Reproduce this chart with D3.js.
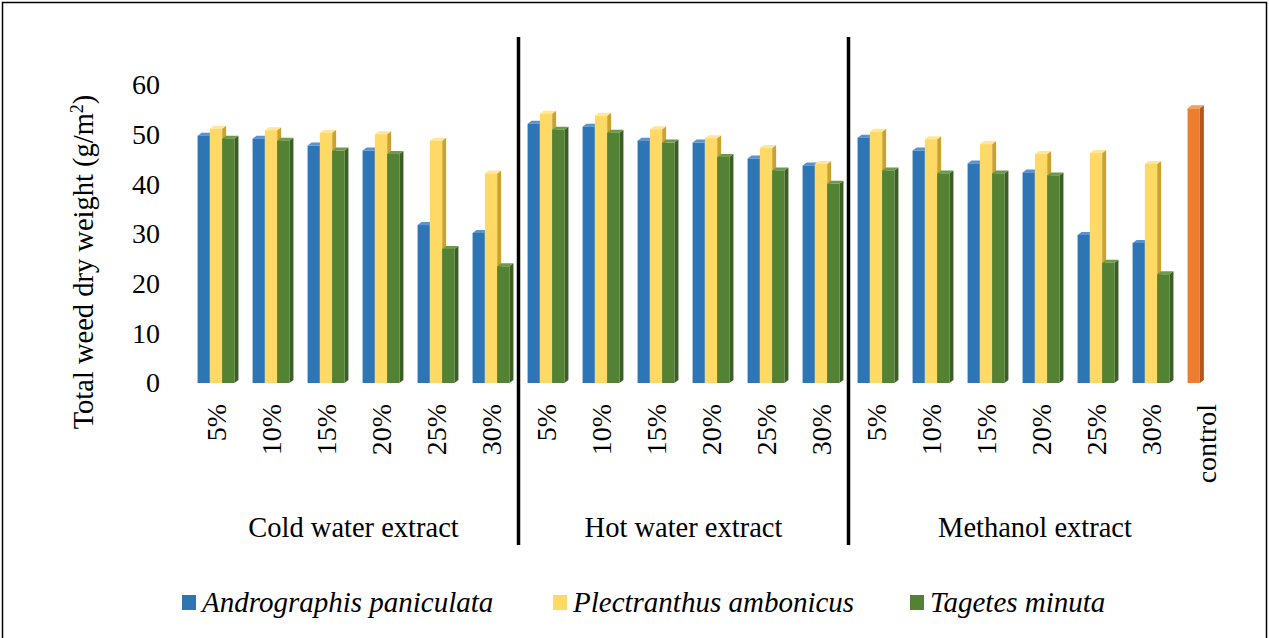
<!DOCTYPE html>
<html>
<head>
<meta charset="utf-8">
<script src="https://cdn.jsdelivr.net/npm/d3@7"></script>
<style>
body { margin: 0; background: #fff; }
</style>
</head>
<body>
<div id="chart"></div>
<script>
var svgWidth = 1269;
var svgHeight = 638;
var serif = 'Liberation Serif';

// data
var categories = ['5%', '10%', '15%', '20%', '25%', '30%',
	'5% ', '10% ', '15% ', '20% ', '25% ', '30% ',
	'5%  ', '10%  ', '15%  ', '20%  ', '25%  ', '30%  ', 'control'];
var groups = ['Cold water extract', 'Hot water extract', 'Methanol extract'];
var seriesNames = ['Andrographis paniculata', 'Plectranthus ambonicus', 'Tagetes minuta'];
var andrographis = [49.8, 49.2, 47.8, 46.8, 31.8, 30.2, 52.2, 51.6, 48.8, 48.4, 45.2, 43.8, 49.4, 46.8, 44.2, 42.4, 29.8, 28.2, 55.3];
var plectranthus = [51.2, 50.9, 50.4, 50.1, 48.8, 42.2, 54.2, 53.8, 51.1, 49.3, 47.3, 44.1, 50.6, 49.1, 48.1, 46.1, 46.3, 44.1, null];
var tagetes = [49.2, 48.8, 46.8, 46.1, 27.0, 23.5, 51.0, 50.4, 48.4, 45.5, 42.8, 40.1, 42.8, 42.2, 42.2, 41.8, 24.2, 21.9, null];
var yTicks = [0, 10, 20, 30, 40, 50, 60];

var colors = ['#2E75B6', '#FFD966', '#548235'];
var sideColors = ['#1F5288', '#C9A230', '#3A5E24'];
var topColors = ['#5B93CC', '#FFE699', '#6E9A4C'];
var controlColor = '#ED7D31', controlSide = '#B3581A', controlTop = '#F49C5E';

var svg = d3.select('#chart').append('svg')
	.attr('width', svgWidth)
	.attr('height', svgHeight);

// outer frame
svg.append('rect')
	.attr('x', 2.5).attr('y', 2.5)
	.attr('width', svgWidth - 5).attr('height', svgHeight)
	.attr('fill', 'none').attr('stroke', '#000').attr('stroke-width', 1.5);

var xScale = d3.scaleBand()
	.domain(categories)
	.range([188.5, 1233.5])
	.paddingInner(0.33)
	.paddingOuter(0.165);

var x1 = d3.scaleBand()
	.domain(d3.range(3))
	.range([0, xScale.bandwidth()]);

var yScale = d3.scaleLinear()
	.domain([0, 60])
	.range([383, 85]);

// y tick labels, no axis line
var yAxis = d3.axisLeft(yScale).tickValues(yTicks).tickSize(0).tickPadding(0);
var yG = svg.append('g')
	.attr('transform', 'translate(160,0)')
	.call(yAxis)
	.attr('font-family', serif)
	.attr('font-size', 28);
yG.select('.domain').remove();
yG.selectAll('text')
	.attr('font-family', serif)
	.attr('font-size', 28)
	.attr('fill', '#000');

// y title
var yTitle = svg.append('text')
	.attr('transform', 'translate(93,262) rotate(-90)')
	.attr('text-anchor', 'middle')
	.attr('font-family', serif)
	.attr('font-size', 28.5);
yTitle.append('tspan').text('Total weed dry weight (g/m');
yTitle.append('tspan').attr('font-size', 18).attr('dy', '-10').text('2');
yTitle.append('tspan').attr('dy', '10').text(')');

// 3d bars
var depth = 4;
var rise = 3;
function drawBar(g, x, w, v, front, side, top) {
	var y = yScale(v);
	var base = yScale(0);
	g.append('polygon')
		.attr('points', [[x + w, y], [x + w + depth, y - rise], [x + w + depth, base - rise], [x + w, base]].join(' '))
		.attr('fill', side);
	g.append('polygon')
		.attr('points', [[x, y], [x + depth, y - rise], [x + w + depth, y - rise], [x + w, y]].join(' '))
		.attr('fill', top);
	g.append('rect')
		.attr('x', x).attr('y', y)
		.attr('width', w).attr('height', base - y)
		.attr('fill', front);
}

var allSeries = [andrographis, plectranthus, tagetes];
var barG = svg.append('g');
categories.forEach(function(c, i) {
	var cg = barG.append('g');
	allSeries.forEach(function(s, k) {
		if (s[i] == null) return;
		var bx = xScale(c) + x1(k);
		if (c == 'control') {
			drawBar(cg, bx, x1.bandwidth(), s[i], controlColor, controlSide, controlTop);
		} else {
			drawBar(cg, bx, x1.bandwidth(), s[i], colors[k], sideColors[k], topColors[k]);
		}
	});
});

// category labels (rotated)
svg.append('g')
	.selectAll('text')
	.data(categories)
	.enter()
	.append('text')
	.attr('transform', function(d) {
		return 'translate(' + (xScale(d) + xScale.bandwidth() / 2) + ',404) rotate(-90)';
	})
	.attr('text-anchor', 'end')
	.attr('dy', '0.35em')
	.attr('font-family', serif)
	.attr('font-size', 28)
	.text(function(d) { return d.trim(); });

// group labels
var groupCenters = [
	(xScale(categories[0]) + xScale(categories[5]) + xScale.bandwidth()) / 2,
	(xScale(categories[6]) + xScale(categories[11]) + xScale.bandwidth()) / 2,
	(xScale(categories[12]) + xScale(categories[18]) + xScale.bandwidth()) / 2 - 6
];
svg.append('g')
	.selectAll('text')
	.data(groups)
	.enter()
	.append('text')
	.attr('x', function(d, i) { return groupCenters[i]; })
	.attr('y', 537)
	.attr('text-anchor', 'middle')
	.attr('font-family', serif)
	.attr('font-size', 28.5)
	.text(function(d) { return d; });

// dividers
[6, 12].forEach(function(i) {
	var dx = xScale(categories[i]) - xScale.step() * xScale.paddingInner() / 2;
	svg.append('line')
		.attr('x1', dx).attr('x2', dx)
		.attr('y1', 37).attr('y2', 545)
		.attr('stroke', '#000').attr('stroke-width', 3.5);
});

// legend
var legendX = [182, 553, 910];
var legend = svg.append('g');
seriesNames.forEach(function(name, k) {
	legend.append('rect')
		.attr('x', legendX[k]).attr('y', 595)
		.attr('width', 14).attr('height', 15)
		.attr('fill', colors[k]);
	legend.append('text')
		.attr('x', legendX[k] + 20).attr('y', 612)
		.attr('font-family', serif)
		.attr('font-size', 29)
		.attr('font-style', 'italic')
		.text(name);
});
</script>
</body>
</html>
